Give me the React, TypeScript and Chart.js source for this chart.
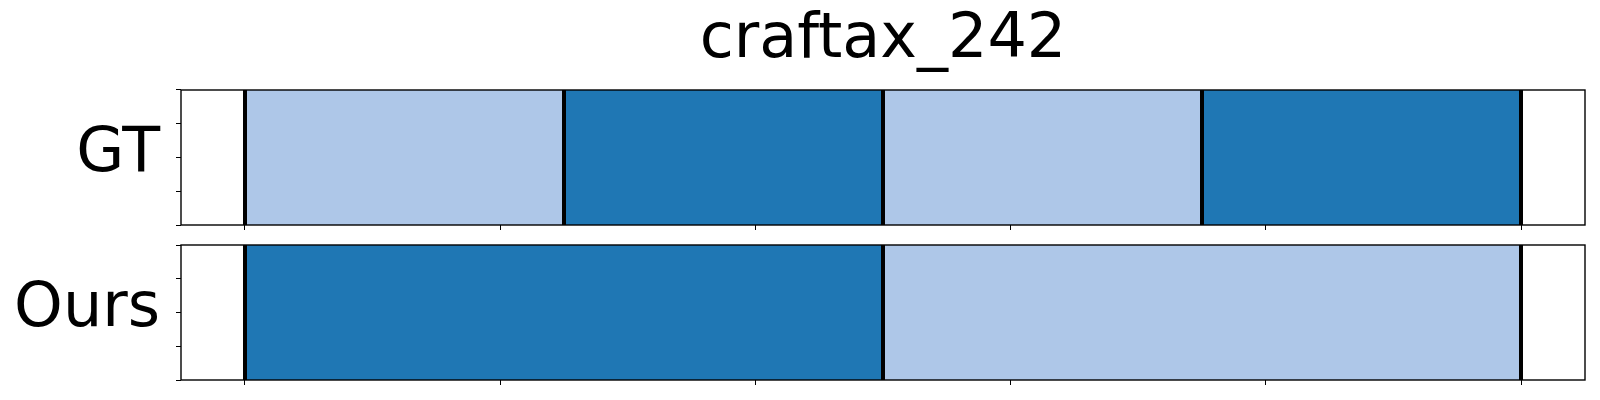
import React, { useEffect, useRef } from "react";
import { Chart, registerables } from "chart.js";

Chart.register(...registerables);

const titleText = "craftax_242";
const rowNames = ["GT", "Ours"];
const gtBoundaries = [0, 25, 50, 75, 100];
const gtClasses = ["a", "b", "a", "b"];
const oursBoundaries = [0, 50, 100];
const oursClasses = ["b", "a"];
const classColors: Record<string, string> = { a: "#aec7e8", b: "#1f77b4" };
const xTicks = [0, 20, 40, 60, 80, 100];
const yTicks = [0, 0.25, 0.5, 0.75, 1];
const xMin = -5;
const xMax = 105;

const FONT = "'DejaVu Sans', sans-serif";
const FONT_SIZE = 62;

const framePlugin = {
  id: "frame",
  afterDraw(chart: any) {
    const { ctx, chartArea } = chart;
    ctx.save();
    ctx.strokeStyle = "#000";
    ctx.lineWidth = 1.4;
    ctx.strokeRect(chartArea.left, chartArea.top, chartArea.right - chartArea.left, chartArea.bottom - chartArea.top);
    ctx.restore();
  },
};

function makeConfig(label: string, boundaries: number[], classes: string[], withTitle: boolean, padTop: number, padBottom: number): any {
  const datasets = classes.map((c, i) => ({
    label: `${label}-${i}`,
    data: [[boundaries[i], boundaries[i + 1]]],
    backgroundColor: classColors[c],
    borderWidth: 0,
    barPercentage: 1,
    categoryPercentage: 1,
    grouped: false,
    xAxisID: "x",
    yAxisID: "yLab",
  }));
  return {
    type: "bar",
    data: { labels: [label], datasets },
    options: {
      indexAxis: "y",
      animation: false,
      responsive: false,
      events: [],
      layout: { padding: { left: 0, right: 15, top: padTop, bottom: padBottom } },
      plugins: {
        legend: { display: false },
        tooltip: { enabled: false },
        title: withTitle
          ? {
              display: true,
              text: titleText,
              fullSize: false,
              color: "#000",
              font: { family: FONT, size: FONT_SIZE, weight: "normal", lineHeight: 1.2 },
              padding: { top: 4, bottom: 11.6 },
            }
          : { display: false },
      },
      scales: {
        x: {
          type: "linear",
          position: "bottom",
          min: xMin,
          max: xMax,
          offset: false,
          afterBuildTicks: (axis: any) => {
            axis.ticks = xTicks.map((v) => ({ value: v }));
          },
          afterFit: (axis: any) => {
            axis.paddingLeft = 0;
            axis.paddingRight = 0;
          },
          ticks: { display: false },
          grid: { offset: false, drawOnChartArea: false, drawTicks: true, tickLength: 5, color: "#000", lineWidth: 1 },
          border: { display: false },
        },
        xB: {
          type: "linear",
          position: "top",
          min: xMin,
          max: xMax,
          offset: false,
          afterBuildTicks: (axis: any) => {
            axis.ticks = boundaries.map((v) => ({ value: v }));
          },
          ticks: { display: false },
          grid: { offset: false, drawOnChartArea: true, drawTicks: false, color: "#000", lineWidth: 4, z: 1 },
          border: { display: false },
        },
        yLab: {
          type: "category",
          position: "left",
          weight: 1,
          offset: true,
          afterFit: (axis: any) => {
            axis.width = 176;
            axis.paddingTop = 0;
            axis.paddingBottom = 0;
          },
          ticks: {
            color: "#000",
            font: { family: FONT, size: FONT_SIZE },
            padding: 16,
            labelOffset: -3,
          },
          grid: { display: false, drawTicks: false },
          border: { display: false },
        },
        yT: {
          type: "linear",
          position: "left",
          weight: 0,
          min: 0,
          max: 1,
          offset: false,
          afterBuildTicks: (axis: any) => {
            axis.ticks = yTicks.map((v) => ({ value: v }));
          },
          afterFit: (axis: any) => {
            axis.paddingTop = 0;
            axis.paddingBottom = 0;
          },
          ticks: { display: false },
          grid: { offset: false, drawOnChartArea: false, drawTicks: true, tickLength: 5, color: "#000", lineWidth: 1 },
          border: { display: false },
        },
      },
    },
    plugins: [framePlugin],
  };
}

export default function App() {
  const topRef = useRef<HTMLCanvasElement | null>(null);
  const botRef = useRef<HTMLCanvasElement | null>(null);

  useEffect(() => {
    const c1 = new Chart(topRef.current!, makeConfig(rowNames[0], gtBoundaries, gtClasses, true, 0, 5));
    const c2 = new Chart(botRef.current!, makeConfig(rowNames[1], oursBoundaries, oursClasses, false, 10, 15));
    return () => {
      c1.destroy();
      c2.destroy();
    };
  }, []);

  return (
    <div style={{ position: "absolute", left: 0, top: 0, width: 1600, height: 400, background: "#fff" }}>
      <canvas ref={topRef} width={1600} height={235} style={{ position: "absolute", left: 0, top: 0, width: 1600, height: 235 }} />
      <canvas ref={botRef} width={1600} height={165} style={{ position: "absolute", left: 0, top: 235, width: 1600, height: 165 }} />
    </div>
  );
}
